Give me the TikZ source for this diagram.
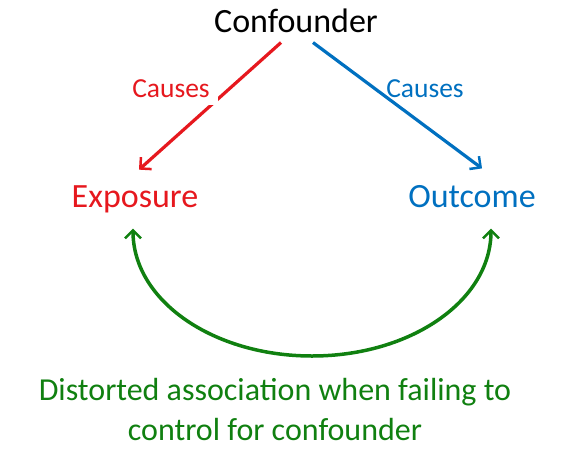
\documentclass[tikz,border=0pt]{standalone}
\usepackage{fontspec}
\setmainfont{Carlito}
\usetikzlibrary{arrows.meta}
\usetikzlibrary{positioning}

\definecolor{causered}{RGB}{230,24,30}
\definecolor{causeblue}{RGB}{0,112,192}
\definecolor{assocgreen}{RGB}{16,128,16}

\begin{document}
\begin{tikzpicture}[
    x=1pt, y=-1pt,
    >={Straight Barb[length=8pt,width=16pt,line width=2.5pt]},
    every node/.style={font=\fontsize{34}{40}\selectfont},
    var/.style={anchor=base, text depth=7pt},
    causelabel/.style={anchor=base, font=\fontsize{27.5}{30}\selectfont},
    causeline/.style={->, line width=3.2pt},
    assocline/.style={<->, line width=3.5pt, color=assocgreen}
]
\useasboundingbox (0,0) rectangle (580,461);

% Nodes
\node[var] (conf) at (296,32) {Confounder};
\node[var, text=causered] (expo) at (135,207) {Exposure};
\node[var, text=causeblue] (outc) at (472,207) {Outcome};
\node[align=center, text=assocgreen, font=\fontsize{32}{40}\selectfont] (note) at (275,409) {Distorted association when failing to\\control for confounder};
\coordinate (arcbot) at (312,356);

% Edges
\draw[causeline, color=causered] ([xshift=-15pt]conf.south) -- ([xshift=4pt,yshift=12pt]expo.north);
\draw[causeline, color=causeblue] ([xshift=17pt]conf.south) -- ([xshift=10pt,yshift=13pt]outc.north);
\draw[assocline] ([xshift=-2pt,yshift=-11pt]expo.south) .. controls +(0,72) and +(-99,0) .. (arcbot) .. controls +(99,0) and +(0,72) .. ([xshift=19pt,yshift=-11pt]outc.south);

% Labels
\node[causelabel, text=causered, fill=white, inner sep=8pt] (redcause) at (171,97) {Causes};
\node[causelabel, text=causeblue] (bluecause) at (425,97) {Causes};

\end{tikzpicture}
\end{document}
